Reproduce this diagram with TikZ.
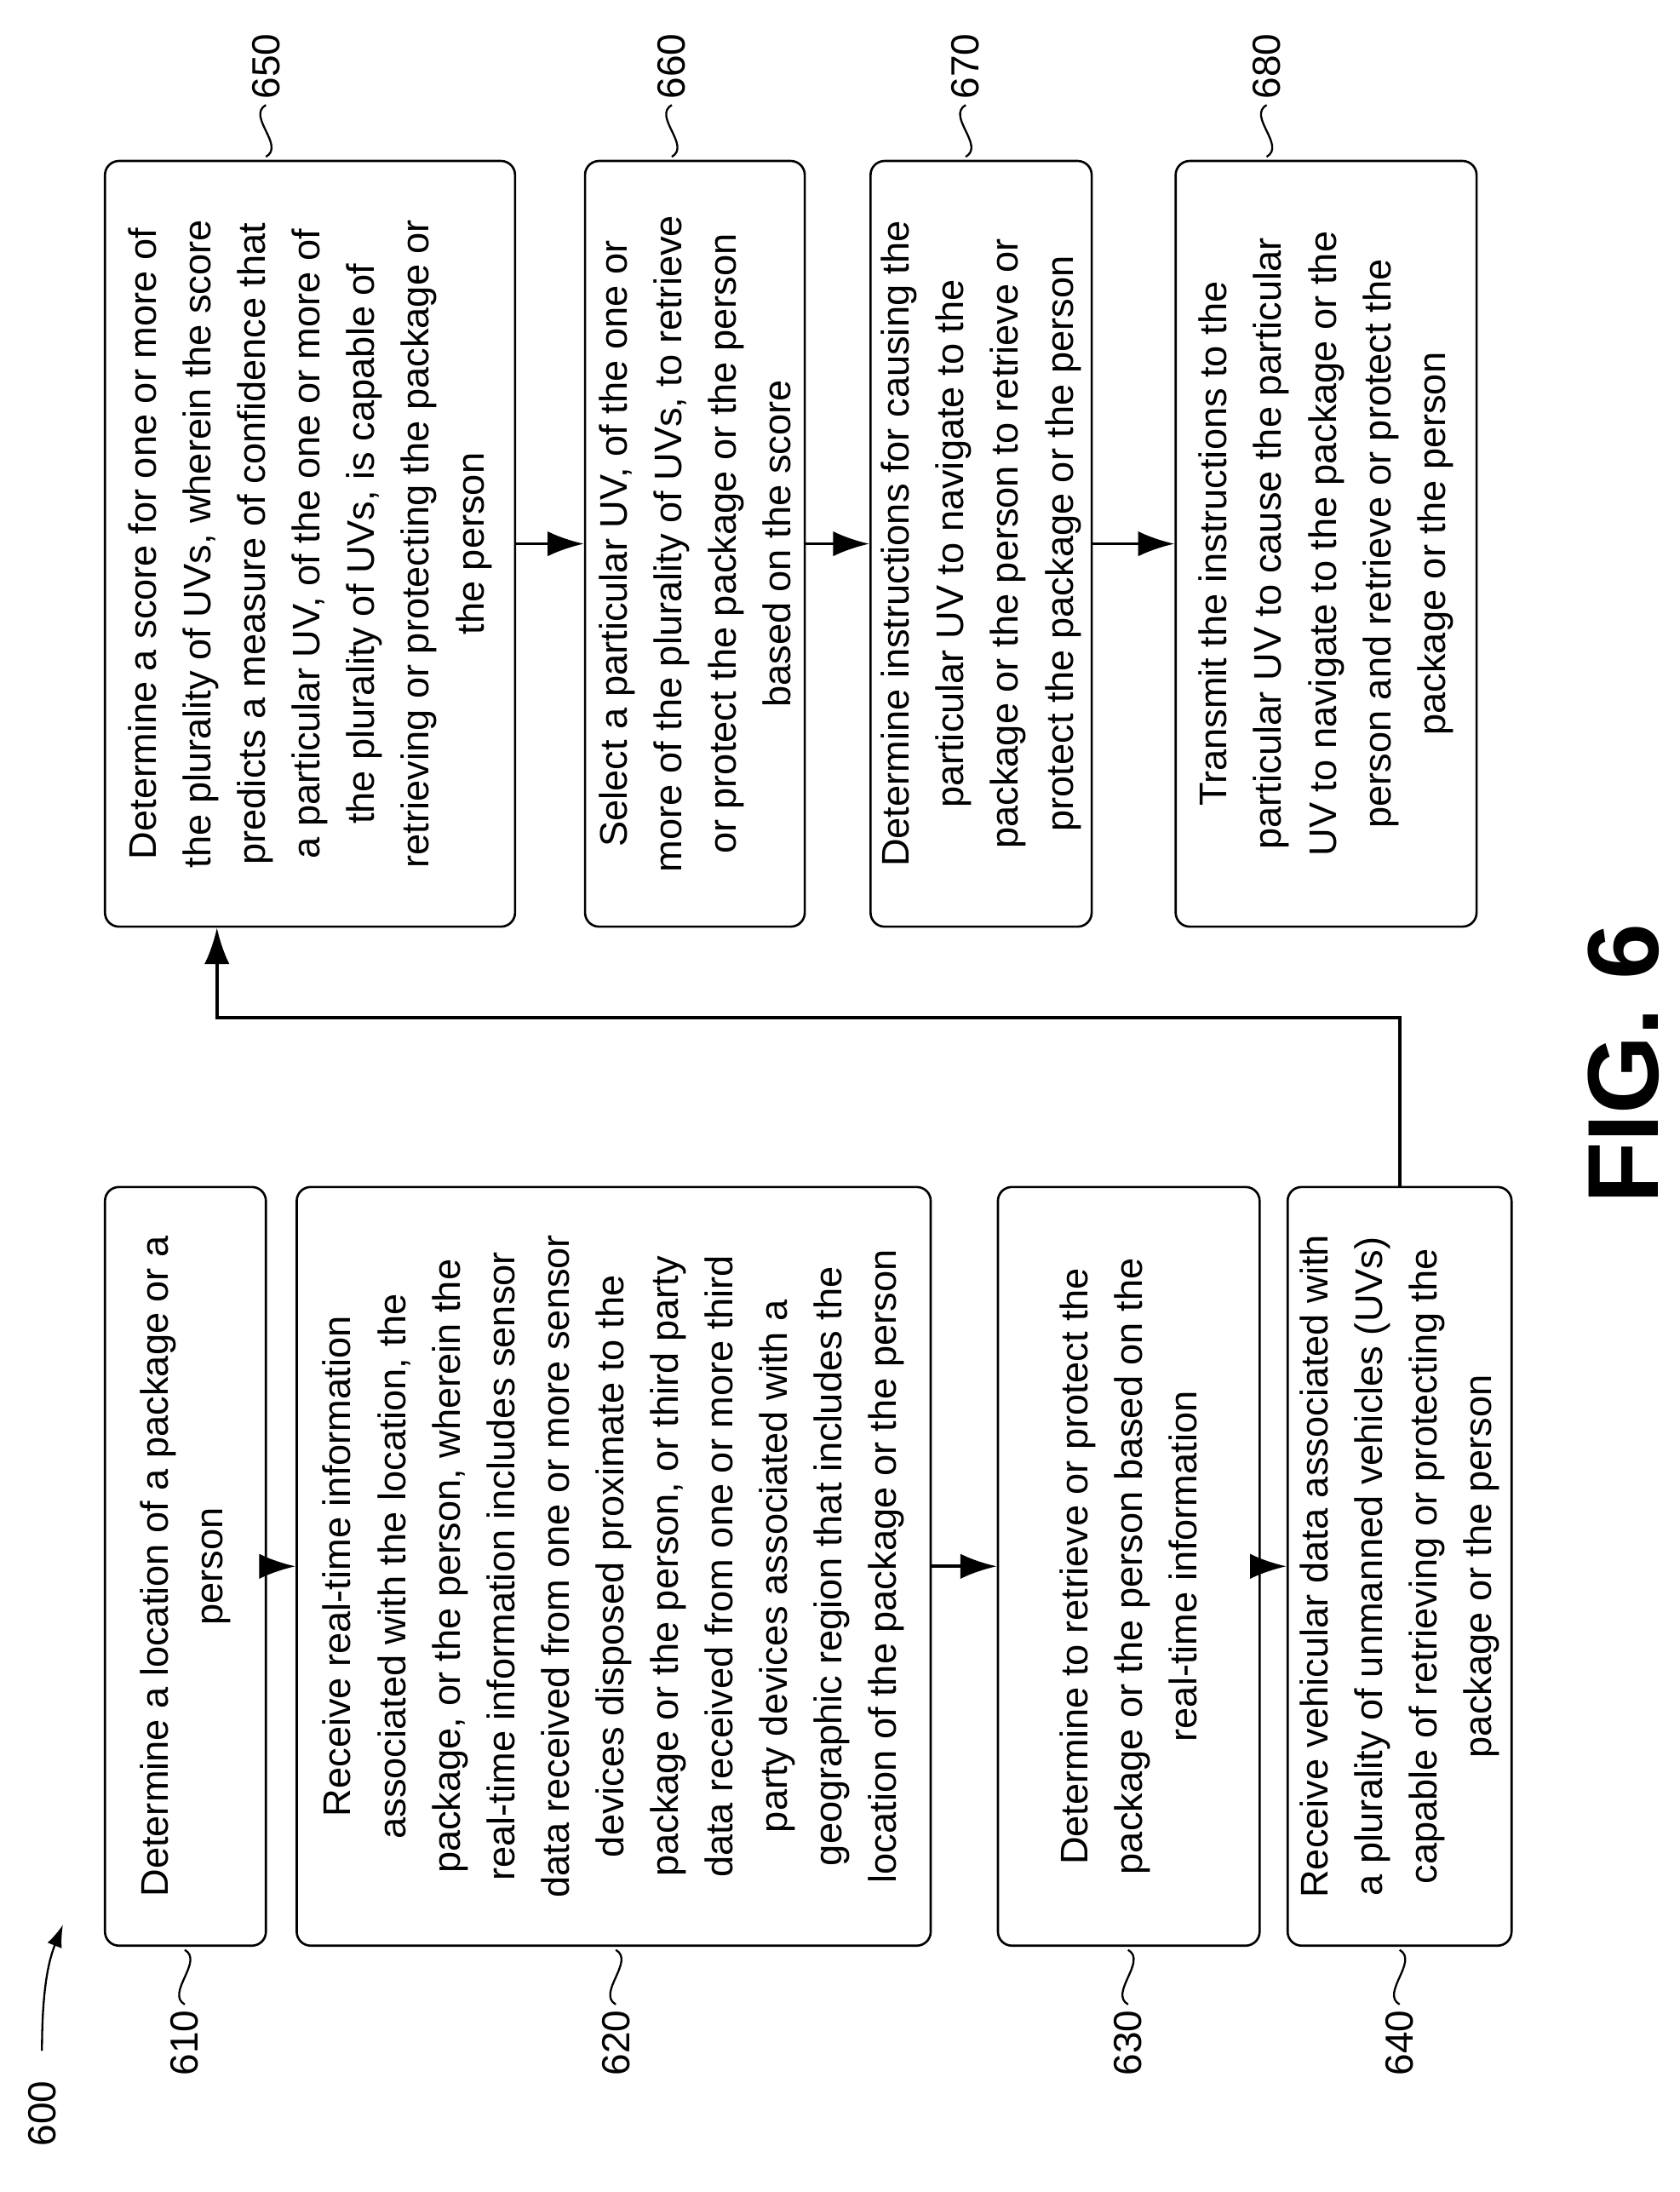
\documentclass[tikz,border=0pt]{standalone}
\usepackage{fontspec}
\setmainfont{Liberation Sans}
\usetikzlibrary{arrows.meta}
\tikzset{
  box/.style={draw, line width=1.6pt, rounded corners=10pt, rotate=90, align=center,
    font=\fontsize{27.5}{39}\selectfont, inner sep=0pt},
  lbl/.style={rotate=90, font=\fontsize{28}{32}\selectfont, inner sep=4pt},
  flow/.style={line width=2.2pt, -{Latex[length=26pt,width=18pt]}},
  sq/.style={line width=1.4pt}
}
\begin{document}
\begin{tikzpicture}[x=1pt,y=-1pt]
  \useasboundingbox (0,0) rectangle (1200,1566);
  % left column
  \node[box, minimum width=542pt, minimum height=115pt] (b610) at (132.5,1119)
    {Determine a location of a package or a\\person};
  \node[box, minimum width=542pt, minimum height=453pt] (b620) at (438.5,1119)
    {Receive real-time information\\associated with the location, the\\package, or the person, wherein the\\real-time information includes sensor\\data received from one or more sensor\\devices disposed proximate to the\\package or the person, or third party\\data received from one or more third\\party devices associated with a\\geographic region that includes the\\location of the package or the person};
  \node[box, minimum width=542pt, minimum height=187pt] (b630) at (806.5,1119)
    {Determine to retrieve or protect the\\package or the person based on the\\real-time information};
  \node[box, minimum width=542pt, minimum height=160pt] (b640) at (1000,1119)
    {Receive vehicular data associated with\\a plurality of unmanned vehicles (UVs)\\capable of retrieving or protecting the\\package or the person};
  % right column
  \node[box, minimum width=547pt, minimum height=293pt] (b650) at (221.5,388.5)
    {Determine a score for one or more of\\the plurality of UVs, wherein the score\\predicts a measure of confidence that\\a particular UV, of the one or more of\\the plurality of UVs, is capable of\\retrieving or protecting the package or\\the person};
  \node[box, minimum width=547pt, minimum height=157pt] (b660) at (496.5,388.5)
    {Select a particular UV, of the one or\\more of the plurality of UVs, to retrieve\\or protect the package or the person\\based on the score};
  \node[box, minimum width=547pt, minimum height=158pt] (b670) at (701,388.5)
    {Determine instructions for causing the\\particular UV to navigate to the\\package or the person to retrieve or\\protect the package or the person};
  \node[box, minimum width=547pt, minimum height=215pt] (b680) at (947.5,388.5)
    {Transmit the instructions to the\\particular UV to cause the particular\\UV to navigate to the package or the\\person and retrieve or protect the\\package or the person};
  % connectors
  \draw[flow] (b610.south) -- (b620.north);
  \draw[flow] (b620.south) -- (b630.north);
  \draw[flow] (b630.south) -- (b640.north);
  \draw[flow] (b640.east -| 1000,0) -- (1000,727) -| (b650.west -| 155,0);
  \draw[flow] (b650.south) -- (b660.north);
  \draw[flow] (b660.south) -- (b670.north);
  \draw[flow] (b670.south) -- (b680.north);
  % labels
  \foreach \n/\x in {610/132, 620/440, 630/806, 640/1000} {
    \node[lbl, anchor=east] (l\n) at (\x,1432) {\n};
    \draw[sq] (l\n.east) .. controls ++(-14,-8) and ++(14,8) .. (\x,1393);
  }
  \foreach \n/\x in {650/190, 660/480, 670/690, 680/905} {
    \node[lbl, anchor=west] (l\n) at (\x,75) {\n};
    \draw[sq] (l\n.west) .. controls ++(-14,8) and ++(14,-8) .. (\x,112);
  }
  \node[lbl] (l600) at (30,1510) {600};
  \draw[line width=1.4pt, -{Latex[length=16pt,width=11pt]}] (30,1465) .. controls (30,1420) and (35,1400) .. (45,1375);
  \node[rotate=90, font=\fontsize{72}{80}\selectfont\bfseries] (fig) at (1160,760) {FIG. 6};
\end{tikzpicture}
\end{document}
